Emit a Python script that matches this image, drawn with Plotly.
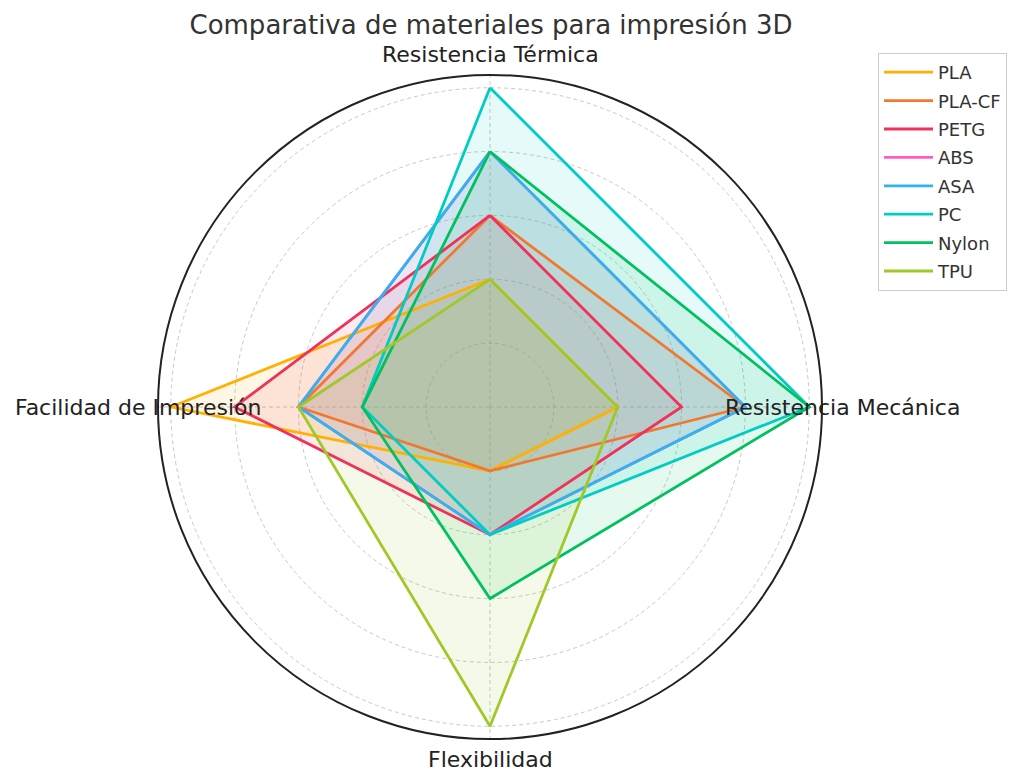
import math
import plotly.graph_objects as go

categories = ["Resistencia Térmica", "Resistencia Mecánica", "Flexibilidad", "Facilidad de Impresión"]
materials = ["PLA", "PLA-CF", "PETG", "ABS", "ASA", "PC", "Nylon", "TPU"]
pla = [2, 2, 1, 5]
pla_cf = [3, 4, 1, 3]
petg = [3, 3, 2, 4]
abs_ = [4, 4, 2, 3]
asa = [4, 4, 2, 3]
pc = [5, 5, 2, 2]
nylon = [4, 5, 3, 2]
tpu = [2, 2, 5, 3]
series = [pla, pla_cf, petg, abs_, asa, pc, nylon, tpu]
colors = ["#FFB000", "#F07830", "#F0325A", "#FF5AC8", "#30B4F0", "#00CCC4", "#00C060", "#A0C828"]

W, H = 1024, 783
R_MAX = 5.2
LABEL_R = 5.52

def rgba(hexc, a):
    h = hexc.lstrip("#")
    return "rgba(%d,%d,%d,%.2f)" % (int(h[0:2], 16), int(h[2:4], 16), int(h[4:6], 16), a)

fig = go.Figure()
# fills first (below all lines)
for name, vals, col in zip(materials, series, colors):
    fig.add_trace(go.Scatterpolar(
        r=vals + vals[:1],
        theta=categories + categories[:1],
        name=name,
        legendgroup=name,
        showlegend=False,
        mode="lines",
        line=dict(color=col, width=0),
        fill="toself",
        fillcolor=rgba(col, 0.1),
        hoverinfo="skip",
    ))
# outlines on top
for name, vals, col in zip(materials, series, colors):
    fig.add_trace(go.Scatterpolar(
        r=vals + vals[:1],
        theta=categories + categories[:1],
        name=name,
        legendgroup=name,
        mode="lines",
        line=dict(color=col, width=2.8),
    ))

dom_x = [150 / W, 814 / W]
dom_y = [52 / H, 716 / H]
cx = (dom_x[0] + dom_x[1]) / 2
cy = (dom_y[0] + dom_y[1]) / 2
rad_px = (dom_x[1] - dom_x[0]) * W / 2
annotations = []
n = len(categories)
for i, cat in enumerate(categories):
    ang = math.radians(90 - 360 * i / n)
    d = rad_px * LABEL_R / R_MAX
    annotations.append(dict(
        text=cat, xref="paper", yref="paper",
        x=cx + d * math.cos(ang) / W, y=cy + d * math.sin(ang) / H,
        xanchor="center", yanchor="middle", showarrow=False,
        font=dict(size=22, color="#222222"),
    ))

fig.update_layout(
    width=W, height=H,
    margin=dict(l=0, r=0, t=0, b=0),
    paper_bgcolor="white",
    font=dict(family="DejaVu Sans", color="#333333"),
    title=dict(text="Comparativa de materiales para impresión 3D",
               x=483 / W, xanchor="center", y=1 - 17 / H, yanchor="middle",
               font=dict(size=26, color="#333333")),
    polar=dict(
        domain=dict(x=dom_x, y=dom_y),
        bgcolor="white",
        radialaxis=dict(range=[0, R_MAX], tickvals=[1, 2, 3, 4, 5], showticklabels=False,
                        ticks="", showline=False, gridcolor="#c8c8c8", griddash="4px,3px",
                        gridwidth=1, layer="below traces"),
        angularaxis=dict(rotation=90, direction="clockwise", showticklabels=False,
                         ticks="", showline=True, linecolor="#222222", linewidth=2,
                         gridcolor="#c8c8c8", griddash="4px,3px", gridwidth=1,
                         layer="below traces"),
    ),
    annotations=annotations,
    legend=dict(x=870 / W, y=1 - 45 / H, xanchor="left", yanchor="top",
                bgcolor="white", bordercolor="#cccccc", borderwidth=1,
                tracegroupgap=2, itemwidth=49,
                font=dict(size=18, color="#333333")),
)

fig.write_html("out.html")
